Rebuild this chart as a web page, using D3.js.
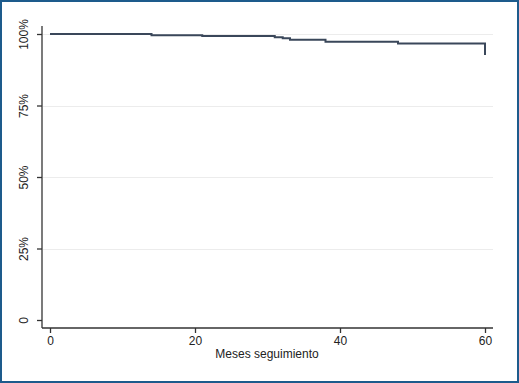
<!DOCTYPE html>
<html>
<head>
<meta charset="utf-8">
<script src="https://cdn.jsdelivr.net/npm/d3@7"></script>
<style>
  html, body { margin: 0; padding: 0; background: #ffffff; }
  svg { display: block; }
  text { font-family: "Liberation Sans", Arial, Helvetica, sans-serif; }
</style>
</head>
<body>
<svg id="chart" width="519" height="383"></svg>
<script>
// Data (Kaplan-Meier style step curve)
const months   = [0, 14, 21, 31, 32.1, 33.1, 38, 48, 60];
const survival = [100, 99.6, 99.3, 98.9, 98.5, 98.0, 97.3, 96.7, 92.7];
const xTicks = [0, 20, 40, 60];
const yTicks = [0, 25, 50, 75, 100];
const yTickLabels = ["0", "25%", "50%", "75%", "100%"];
const xTitle = "Meses seguimiento";

const svg = d3.select("#chart");
const W = 519, H = 383;

// outer frame
svg.append("rect").attr("x", 1).attr("y", 1).attr("width", W - 2).attr("height", H - 2)
  .attr("fill", "#ffffff").attr("stroke", "#1d5b8c").attr("stroke-width", 2);

const x = d3.scaleLinear().domain([0, 60]).range([50, 485]);
const y = d3.scaleLinear().domain([0, 100]).range([320, 34]);

const axisX0 = 42, axisY0 = 328, axisXEnd = 493, axisYTop = 26;

// gridlines
svg.append("g").selectAll("line").data(yTicks.filter(d => d > 0)).join("line")
  .attr("x1", axisX0 + 1).attr("x2", axisXEnd)
  .attr("y1", d => Math.round(y(d)) + 0.5).attr("y2", d => Math.round(y(d)) + 0.5)
  .attr("stroke", "#ececec").attr("stroke-width", 1);

// y axis
const gy = svg.append("g").attr("transform", `translate(${axisX0},0)`)
  .call(d3.axisLeft(y).tickValues(yTicks).tickSize(5).tickSizeOuter(0)
    .tickFormat((d, i) => yTickLabels[i]));
gy.select(".domain").remove();
gy.selectAll(".tick line").attr("stroke", "#333").attr("stroke-width", 1.3);
gy.selectAll(".tick text").attr("font-size", 12).attr("fill", "#222")
  .attr("text-anchor", "middle")
  .attr("transform", "rotate(-90)")
  .attr("x", 0).attr("y", -14).attr("dy", 0);
gy.selectAll(".tick text").each(function(d) {
  d3.select(this).attr("transform", `translate(-14,0) rotate(-90)`).attr("y", 0).attr("x", 0).attr("dy", "0");
});

// x axis
const gx = svg.append("g").attr("transform", `translate(0,${axisY0})`)
  .call(d3.axisBottom(x).tickValues(xTicks).tickSize(5).tickSizeOuter(0));
gx.select(".domain").remove();
gx.selectAll(".tick line").attr("stroke", "#333").attr("stroke-width", 1.3);
gx.selectAll(".tick text").attr("font-size", 12).attr("fill", "#222").attr("y", 8).attr("dy", "0.71em");

// axis lines
svg.append("line").attr("x1", axisX0).attr("x2", axisX0).attr("y1", axisYTop).attr("y2", axisY0)
  .attr("stroke", "#333").attr("stroke-width", 1.3);
svg.append("line").attr("x1", axisX0).attr("x2", axisXEnd).attr("y1", axisY0).attr("y2", axisY0)
  .attr("stroke", "#333").attr("stroke-width", 1.3);

// axis title
svg.append("text").attr("x", 267).attr("y", 358).attr("text-anchor", "middle")
  .attr("font-size", 12).attr("fill", "#222").text(xTitle);

// survival step curve
const pts = months.map((m, i) => [m, survival[i]]);
const line = d3.line().x(d => x(d[0])).y(d => y(d[1])).curve(d3.curveStepAfter);
svg.append("path").datum(pts).attr("d", line)
  .attr("fill", "none").attr("stroke", "#3a475a").attr("stroke-width", 2);
</script>
</body>
</html>
